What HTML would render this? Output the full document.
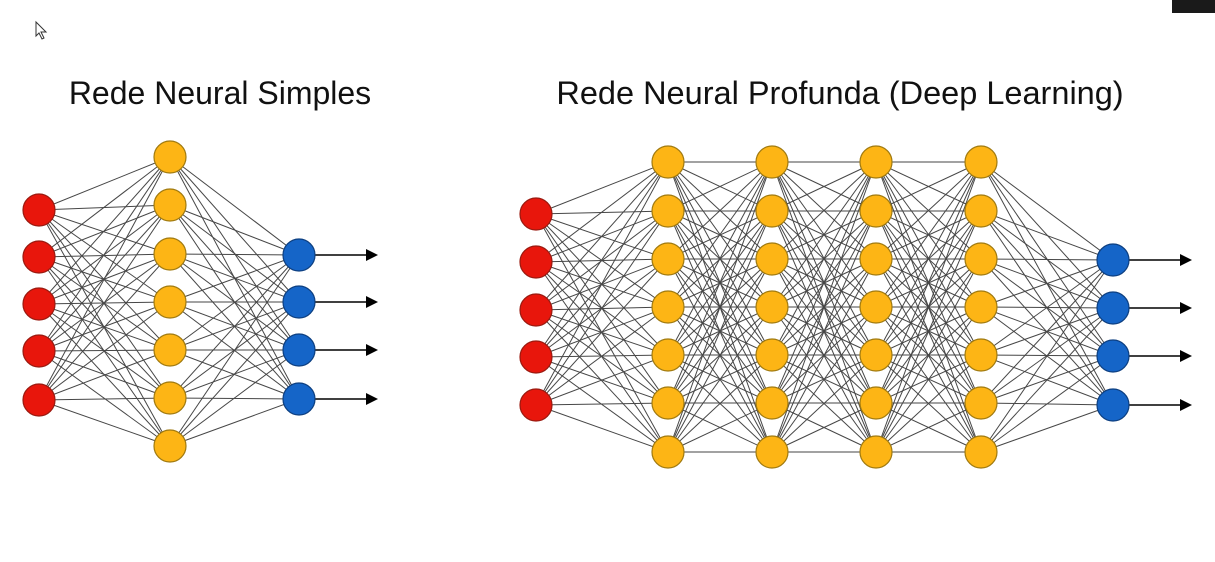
<!DOCTYPE html>
<html><head><meta charset="utf-8"><style>
html,body{margin:0;padding:0;background:#fff;width:1215px;height:562px;overflow:hidden}
</style></head><body>
<svg id="s" width="1215" height="562" xmlns="http://www.w3.org/2000/svg">
<rect x="1172" y="0" width="43" height="13" fill="#1a1a1a"/>
<path d="M36 22 L36 36 L39 33 L42 39 L44 38 L41 32 L46 32 Z" fill="#fff" stroke="#333" stroke-width="1"/>
<text x="220" y="104" font-family="Liberation Sans, sans-serif" font-size="32" text-anchor="middle" fill="#111">Rede Neural Simples</text>
<text x="840" y="104" font-family="Liberation Sans, sans-serif" font-size="32.5" text-anchor="middle" fill="#111">Rede Neural Profunda (Deep Learning)</text>
<g id="lines" stroke="#333" stroke-width="1" opacity="0.9"></g>
<g id="nodes"></g>
</svg>
<script>
var NS="http://www.w3.org/2000/svg";
var L=document.getElementById("lines"),N=document.getElementById("nodes");
function el(t,a,p){var e=document.createElementNS(NS,t);for(var k in a)e.setAttribute(k,a[k]);p.appendChild(e);return e;}
function net(cols,arrowEnd){
 for(var i=0;i<cols.length-1;i++){var A=cols[i],B=cols[i+1];
  A.ys.forEach(function(y1){B.ys.forEach(function(y2){el("line",{x1:A.x,y1:y1,x2:B.x,y2:y2},L);});});}
 var last=cols[cols.length-1];
 last.ys.forEach(function(y){el("line",{x1:last.x,y1:y,x2:arrowEnd-10,y2:y,stroke:"#000","stroke-width":1.5},N);
  el("polygon",{points:(arrowEnd-12)+","+(y-6)+" "+arrowEnd+","+y+" "+(arrowEnd-12)+","+(y+6),fill:"#000"},N);});
 cols.forEach(function(c){c.ys.forEach(function(y){el("circle",{cx:c.x,cy:y,r:16,fill:c.f,stroke:c.s,"stroke-width":1.2},N);});});
}
var R="#e8160c",RS="#9a1a10",O="#fdb515",OS="#a07a10",B="#1565c8",BS="#0d3f80";
net([{x:39,ys:[210,257,304,351,400],f:R,s:RS},
 {x:170,ys:[157,205,254,302,350,398,446],f:O,s:OS},
 {x:299,ys:[255,302,350,399],f:B,s:BS}],378);
var oy=[162,211,259,307,355,403,452];
net([{x:536,ys:[214,262,310,357,405],f:R,s:RS},
 {x:668,ys:oy,f:O,s:OS},{x:772,ys:oy,f:O,s:OS},{x:876,ys:oy,f:O,s:OS},{x:981,ys:oy,f:O,s:OS},
 {x:1113,ys:[260,308,356,405],f:B,s:BS}],1192);
</script>
</body></html>
